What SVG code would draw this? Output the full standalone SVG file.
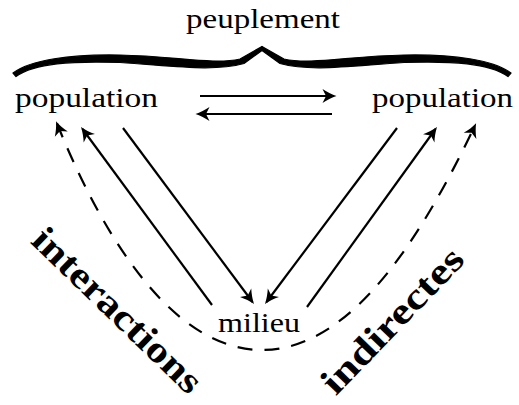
<svg xmlns="http://www.w3.org/2000/svg" width="519" height="405" viewBox="0 0 519 405">
  <style>
    .lbl { font-family: "Liberation Serif", "DejaVu Serif", serif; font-size: 28px; fill: #000; }
    .big { font-family: "Liberation Serif", "DejaVu Serif", serif; font-size: 37px; font-weight: bold; fill: #000; }
    .edge { fill: none; stroke: #000; stroke-width: 2.2; }
    .dash { stroke-dasharray: 15 12; }
    .brace { fill: #000; stroke: #000; stroke-width: 1.2; stroke-linejoin: round; }
  </style>
  <defs>
    <marker id="head" markerUnits="userSpaceOnUse" viewBox="-14 -8 17 16" markerWidth="17" markerHeight="16" refX="0" refY="0" orient="auto-start-reverse" overflow="visible">
      <path d="M 2.5 0 C -1.8 -1.4, -7.5 -4.2, -11.5 -7 L -8 0 L -11.5 7 C -7.5 4.2, -1.8 1.4, 2.5 0 Z" fill="#000"/>
    </marker>
  </defs>
  <rect width="519" height="405" fill="#fff"/>

  <!-- community: brace over both populations -->
  <g id="peuplement">
    <g id="brace">
      <path class="brace" d="M 13 73 C 30 60, 70 54, 120 55 C 175 56, 213 65, 240 59 L 262 46.5 L 262 50.5 L 244 63.5 C 213 72, 175 66, 120 62.5 C 72 61, 35 63, 16 76.5 Z"/>
      <path class="brace" transform="translate(524 0) scale(-1 1)" d="M 13 73 C 30 60, 70 54, 120 55 C 175 56, 213 65, 240 59 L 262 46.5 L 262 50.5 L 244 63.5 C 213 72, 175 66, 120 62.5 C 72 61, 35 63, 16 76.5 Z"/>
    </g>
    <text class="lbl" x="263" y="28" text-anchor="middle" textLength="154" lengthAdjust="spacingAndGlyphs">peuplement</text>
  </g>

  <g id="population-left">
    <text class="lbl" x="15" y="107" textLength="143" lengthAdjust="spacingAndGlyphs">population</text>
  </g>

  <g id="population-right">
    <text class="lbl" x="372" y="107" textLength="141" lengthAdjust="spacingAndGlyphs">population</text>
  </g>

  <g id="milieu">
    <text class="lbl" x="218" y="332" textLength="82" lengthAdjust="spacingAndGlyphs">milieu</text>
  </g>

  <g id="connectors">
    <!-- direct exchanges between the two populations -->
    <line class="edge" x1="200" y1="96" x2="334" y2="96" marker-end="url(#head)"/>
    <line class="edge" x1="332" y1="114" x2="198" y2="114" marker-end="url(#head)"/>
    <!-- left population <-> environment -->
    <line class="edge" x1="123" y1="128" x2="252.5" y2="302" marker-end="url(#head)"/>
    <line class="edge" x1="212" y1="305" x2="82.5" y2="129" marker-end="url(#head)"/>
    <!-- right population <-> environment -->
    <line class="edge" x1="397" y1="128" x2="266.5" y2="302" marker-end="url(#head)"/>
    <line class="edge" x1="307" y1="307" x2="435.5" y2="129" marker-end="url(#head)"/>
    <!-- indirect interactions through the environment -->
    <path class="edge dash" d="M 57 123.5 C 100 230, 170 350, 262 350 C 354 350, 425 230, 475 125.5" marker-start="url(#head)" marker-end="url(#head)"/>
  </g>

  <g id="edge-labels">
    <text class="big" transform="translate(109 319) rotate(44)" text-anchor="middle" textLength="221" lengthAdjust="spacingAndGlyphs">interactions</text>
    <text class="big" transform="translate(401 329) rotate(-46)" text-anchor="middle" textLength="188" lengthAdjust="spacingAndGlyphs">indirectes</text>
  </g>
</svg>
